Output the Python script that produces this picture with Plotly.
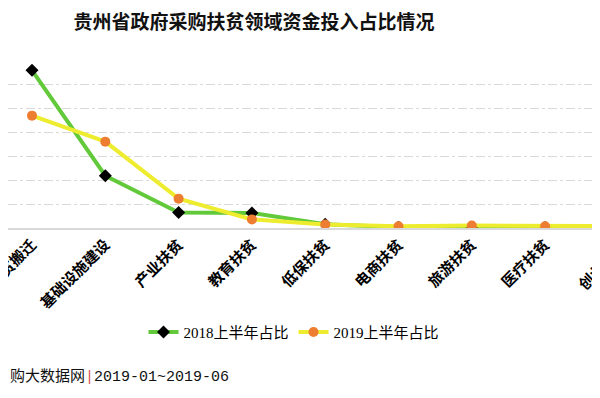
import plotly.graph_objects as go

categories = ["易地扶贫搬迁", "基础设施建设", "产业扶贫", "教育扶贫", "低保扶贫",
              "电商扶贫", "旅游扶贫", "医疗扶贫", "创业扶贫"]
share_2018 = [66.1, 21.9, 6.5, 6.3, 1.6, 0.3, 0.3, 0.2, 0.2]
share_2019 = [47.1, 36.2, 12.3, 3.6, 1.5, 0.7, 1.0, 0.7, 0.75]
series_names = ["2018上半年占比", "2019上半年占比"]
grid_vals = [10, 20, 30, 40, 50, 60, 70]

OFF = 8  # default body margin of the html page
W, H = 600 - OFF, 398 - OFF
top_px, base_px = 60.7 - OFF, 228.3 - OFF
plot_h = base_px - top_px

cjk = "Noto Sans CJK SC"
serif = "Liberation Serif, Noto Sans CJK SC"

fig = go.Figure()
fig.add_trace(go.Scatter(
    x=list(range(len(categories))), y=share_2018, name=series_names[0],
    mode="lines+markers",
    line=dict(color="#62c93a", width=4),
    marker=dict(symbol="diamond", size=10, color="#000000"),
))
fig.add_trace(go.Scatter(
    x=list(range(len(categories))), y=share_2019, name=series_names[1],
    mode="lines+markers",
    line=dict(color="#eeec2e", width=4),
    marker=dict(symbol="circle", size=10, color="#ed7d31"),
))

sp = 73.3
c0 = 32.0 - OFF
fig.update_layout(
    width=W, height=H,
    margin=dict(l=0, r=0, t=top_px, b=H - base_px, autoexpand=False),
    paper_bgcolor="white", plot_bgcolor="white",
    title=dict(text="贵州省政府采购扶贫领域资金投入占比情况",
               x=(254 - OFF) / W, xanchor="center", y=1 - (22 - OFF) / H,
               yanchor="middle", yref="container", xref="paper",
               font=dict(family=cjk, size=19, color="#111", weight="bold")),
    xaxis=dict(range=[-c0 / sp, (W - c0) / sp], tickmode="array",
               tickvals=list(range(len(categories))), ticktext=categories,
               tickangle=-45, showgrid=False, showline=True,
               linecolor="#d9d9d9", linewidth=2, ticks="", zeroline=False,
               automargin=False, ticklabeloverflow="allow",
               tickfont=dict(family=cjk, size=15, color="#000", weight="bold")),
    yaxis=dict(range=[0, 70], tickmode="array", tickvals=grid_vals,
               showticklabels=False, showgrid=True, gridcolor="#d9d9d9",
               griddash="dashdot", gridwidth=1, zeroline=False, showline=False,
               automargin=False),
    legend=dict(orientation="h", x=(294 - OFF) / W, xanchor="center",
                y=(base_px - (333 - OFF)) / plot_h, yanchor="middle",
                font=dict(family=serif, size=15, color="#000"),
                itemwidth=30, bgcolor="rgba(0,0,0,0)"),
    showlegend=True,
)

# last category label, only partly inside the visible area
fig.add_annotation(
    text=categories[-1], textangle=-45, showarrow=False,
    xref="paper", yref="paper",
    x=(618.6 - 17 - OFF) / W, xanchor="center",
    y=(base_px - (266 - OFF)) / plot_h, yanchor="middle",
    font=dict(family=cjk, size=15, color="#000", weight="bold"),
)

fig.add_annotation(
    text="购大数据网<span style='color:#d9534f'>|</span>2019-01~2019-06",
    xref="paper", yref="paper", x=0, xanchor="left",
    y=(base_px - (378 - OFF)) / plot_h, yanchor="middle", showarrow=False,
    font=dict(family="Liberation Mono, Noto Sans CJK SC", size=15, color="#111"),
)

fig.write_html("out.html")
